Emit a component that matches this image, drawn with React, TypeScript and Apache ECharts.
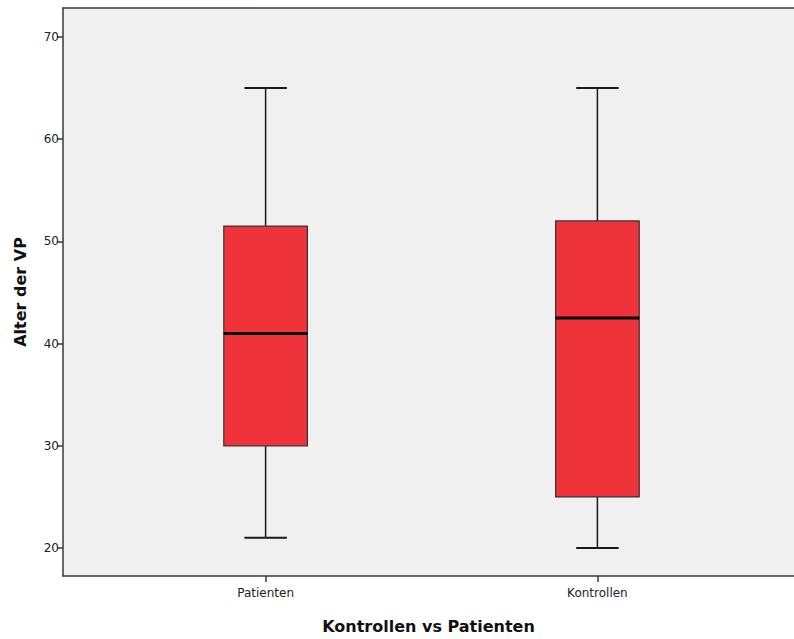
import React, { useEffect, useRef } from "react";
import * as echarts from "echarts";

const categories = ["Patienten", "Kontrollen"];
const positions = [1, 2];
const mins = [21, 20];
const q1s = [30, 25];
const medians = [41, 42.5];
const q3s = [51.5, 52];
const maxs = [65, 65];
const yTicks = [20, 30, 40, 50, 60, 70];

export default function App() {
  const ref = useRef<HTMLDivElement>(null);
  useEffect(() => {
    if (!ref.current) return;
    const chart = echarts.init(ref.current, null, { renderer: "svg" });
    const data = positions.map((p, i) => [p, mins[i], q1s[i], medians[i], q3s[i], maxs[i]]);
    const font = "'DejaVu Sans', Verdana, sans-serif";
    const xMin = 0.3894;
    const xMax = 2.5925;
    const axisColor = "#3a3a3a";
    chart.setOption({
      animation: false,
      backgroundColor: "#ffffff",
      grid: {
        left: 63,
        top: 8,
        right: 0,
        bottom: 62,
        show: true,
        backgroundColor: "#F0F0F0",
        borderWidth: 0,
      },
      xAxis: [
        {
          type: "value",
          min: xMin,
          max: xMax,
          name: "Kontrollen vs Patienten",
          nameLocation: "middle",
          nameGap: 42,
          nameTextStyle: { fontFamily: font, fontSize: 16, fontWeight: "bold", color: "#111" },
          splitLine: { show: false },
          axisLine: { show: true, lineStyle: { color: axisColor, width: 1.5 } },
          axisTick: { show: true, length: 6, customValues: positions, lineStyle: { color: axisColor, width: 1.5 } },
          axisLabel: {
            customValues: positions,
            formatter: (v: number) => {
              const i = positions.indexOf(Math.round(v));
              return i >= 0 ? categories[i] : "";
            },
            fontFamily: font,
            fontSize: 12,
            color: "#222",
            margin: 11,
          },
        },
        {
          type: "value",
          position: "top",
          min: xMin,
          max: xMax,
          splitLine: { show: false },
          axisLine: { show: true, lineStyle: { color: axisColor, width: 1.5 } },
          axisTick: { show: false },
          axisLabel: { show: false },
        },
      ],
      yAxis: {
        type: "value",
        min: 17.27,
        max: 72.83,
        name: "Alter der VP",
        nameLocation: "middle",
        nameGap: 35,
        nameTextStyle: { fontFamily: font, fontSize: 16, fontWeight: "bold", color: "#111" },
        splitLine: { show: false },
        axisLine: { show: true, lineStyle: { color: axisColor, width: 1.5 } },
        axisTick: { show: true, length: 6, customValues: yTicks, lineStyle: { color: axisColor, width: 1.5 } },
        axisLabel: {
          customValues: yTicks,
          fontFamily: font,
          fontSize: 12,
          color: "#222",
          margin: 4,
        },
      },
      series: [
        {
          type: "custom",
          xAxisIndex: 0,
          data,
          clip: false,
          renderItem: (params: any, api: any) => {
            const x = api.value(0);
            const mn = api.value(1);
            const q1 = api.value(2);
            const md = api.value(3);
            const q3 = api.value(4);
            const mx = api.value(5);
            const hb = 0.126;
            const hc = 0.064;
            const c = (a: number, b: number) => api.coord([a, b]);
            const tl = c(x - hb, q3);
            const br = c(x + hb, q1);
            const top = c(x, mx);
            const bot = c(x, mn);
            const q3p = c(x, q3);
            const q1p = c(x, q1);
            const capL = c(x - hc, mx);
            const capR = c(x + hc, mx);
            const capLb = c(x - hc, mn);
            const capRb = c(x + hc, mn);
            const mL = c(x - hb, md);
            const mR = c(x + hb, md);
            const wStyle = { stroke: "#1a1a1a", lineWidth: 1.5 };
            return {
              type: "group",
              children: [
                { type: "line", shape: { x1: top[0], y1: top[1], x2: q3p[0], y2: q3p[1] }, style: wStyle },
                { type: "line", shape: { x1: q1p[0], y1: q1p[1], x2: bot[0], y2: bot[1] }, style: wStyle },
                { type: "line", shape: { x1: capL[0], y1: capL[1], x2: capR[0], y2: capR[1] }, style: { stroke: "#1a1a1a", lineWidth: 2 } },
                { type: "line", shape: { x1: capLb[0], y1: capLb[1], x2: capRb[0], y2: capRb[1] }, style: { stroke: "#1a1a1a", lineWidth: 2 } },
                {
                  type: "rect",
                  shape: { x: tl[0], y: tl[1], width: br[0] - tl[0], height: br[1] - tl[1] },
                  style: { fill: "#EE333A", stroke: "#333333", lineWidth: 1.2 },
                },
                { type: "line", shape: { x1: mL[0], y1: mL[1], x2: mR[0], y2: mR[1] }, style: { stroke: "#000000", lineWidth: 3 } },
              ],
            };
          },
        },
      ],
    });
    return () => chart.dispose();
  }, []);
  return (
    <div
      ref={ref}
      style={{ position: "fixed", left: 0, top: 0, width: 794, height: 639 }}
    />
  );
}
